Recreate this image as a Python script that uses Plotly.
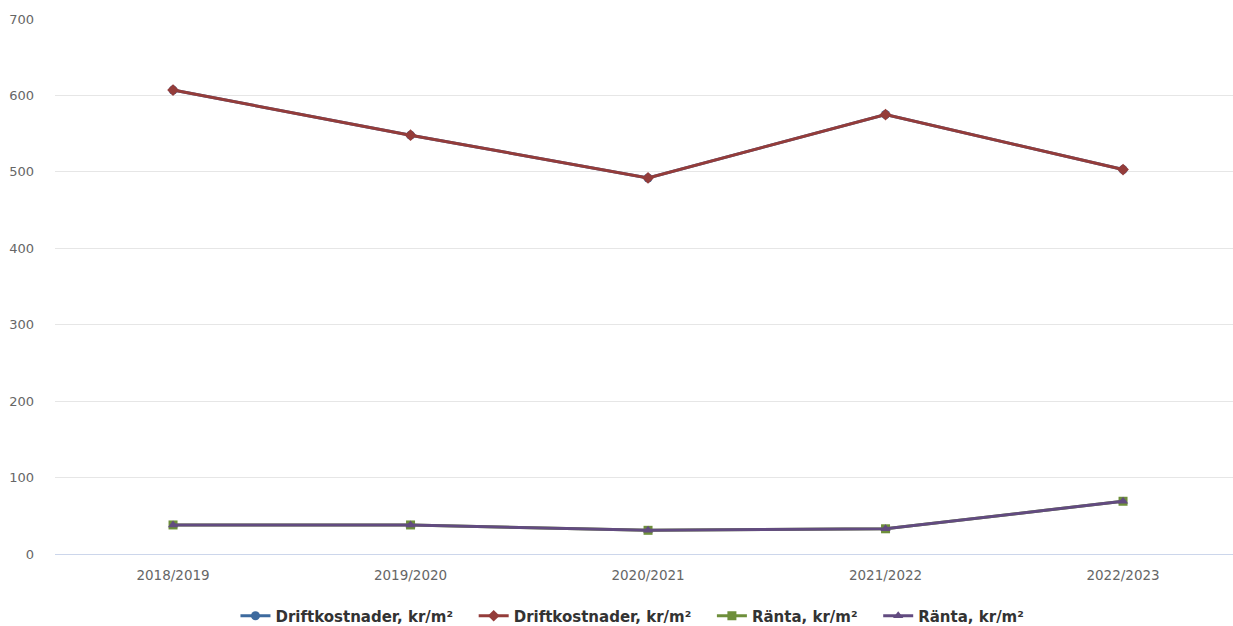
import plotly.graph_objects as go

categories = ["2018/2019", "2019/2020", "2020/2021", "2021/2022", "2022/2023"]
drift_a = [607, 548, 492, 575, 503]
drift_b = [607, 548, 492, 575, 503]
ranta_a = [38, 38, 31, 33, 69]
ranta_b = [38, 38, 31, 33, 69]
series_names = ["Driftkostnader, kr/m²", "Driftkostnader, kr/m²", "Ränta, kr/m²", "Ränta, kr/m²"]
y_ticks = [0, 100, 200, 300, 400, 500, 600, 700]

colors = ["#3d6a9e", "#943c3a", "#6e8f3b", "#624b80"]
symbols = ["circle", "diamond", "square", "triangle-up"]
data = [drift_a, drift_b, ranta_a, ranta_b]

fig = go.Figure()
for name, vals, c, s in zip(series_names, data, colors, symbols):
    fig.add_trace(go.Scatter(
        x=categories, y=vals, name=name + "   ", mode="lines+markers",
        line=dict(color=c, width=3),
        marker=dict(symbol=s, size=9, color=c),
    ))

fig.update_layout(
    width=1233, height=626,
    margin=dict(l=55, r=0, t=19, b=72, autoexpand=False),
    plot_bgcolor="white", paper_bgcolor="white",
    font=dict(family="DejaVu Sans, Verdana, sans-serif", color="#666666", size=12),
    showlegend=True,
    legend=dict(orientation="h", x=0.497, xanchor="center", yref="container", y=0.016, yanchor="middle",
                font=dict(size=15, color="#333333", weight="bold"),
                itemwidth=30, traceorder="normal"),
    xaxis=dict(range=[-0.497, 4.463], showgrid=False, showline=True,
               linecolor="#ccd6eb", linewidth=1, ticks="", ticklabelstandoff=9,
               tickfont=dict(size=13.5, color="#666666")),
    yaxis=dict(range=[0, 700], tickvals=y_ticks, showgrid=True, gridcolor="#e6e6e6",
               zeroline=False, showline=False, ticks="", ticklabelstandoff=20,
               tickfont=dict(size=13, color="#666666")),
)

fig.write_html("out.html")
